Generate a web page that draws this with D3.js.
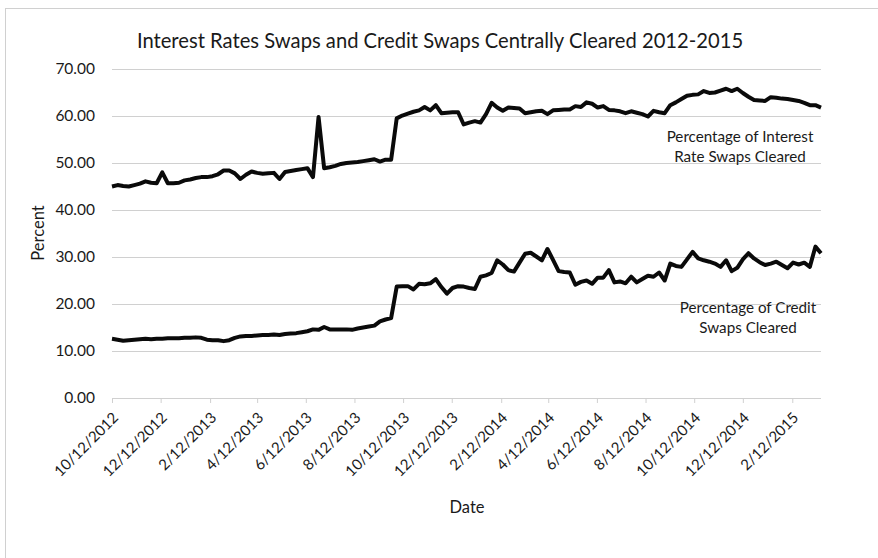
<!DOCTYPE html>
<html>
<head>
<meta charset="utf-8">
<script src="https://cdn.jsdelivr.net/npm/d3@7"></script>
<style>
  body { margin: 0; background: #fff; }
  text { font-family: Lato, "Noto Sans", sans-serif; fill: #1a1a1a; }
</style>
</head>
<body>
<div id="chart"></div>
<script>
// weekly observations, first week 10/12/2012
const startDate = "10/12/2012"

// % of interest rate swaps cleared
const irsCleared = [
  45.0, 45.3, 45.1, 45.0, 45.3, 45.6, 46.1, 45.8, 45.7, 48.0,
  45.7, 45.7, 45.8, 46.3, 46.5, 46.8, 47.0, 47.0, 47.2, 47.6,
  48.4, 48.4, 47.8, 46.6, 47.5, 48.2, 47.9, 47.7, 47.8, 47.9,
  46.6, 48.1, 48.3, 48.5, 48.7, 48.9, 47.0, 59.8, 48.9, 49.1,
  49.4, 49.8, 50.0, 50.1, 50.2, 50.4, 50.6, 50.8, 50.3, 50.7,
  50.7, 59.5, 60.1, 60.5, 60.9, 61.2, 61.9, 61.2, 62.3, 60.6,
  60.7, 60.8, 60.8, 58.2, 58.6, 58.9, 58.6, 60.4, 62.8, 61.8,
  61.1, 61.8, 61.7, 61.6, 60.6, 60.8, 61.0, 61.1, 60.4, 61.2,
  61.3, 61.4, 61.4, 62.1, 61.9, 62.9, 62.6, 61.8, 62.1, 61.3,
  61.2, 61.0, 60.6, 61.0, 60.7, 60.4, 59.9, 61.1, 60.8, 60.6,
  62.3, 62.9, 63.6, 64.3, 64.5, 64.6, 65.3, 64.9, 65.0, 65.4,
  65.8, 65.3, 65.8, 64.9, 64.1, 63.4, 63.3, 63.2, 64.0, 63.9,
  63.7, 63.6, 63.4, 63.2, 62.8, 62.3, 62.3, 61.8
]

// % of credit swaps cleared
const cdsCleared = [
  12.6, 12.4, 12.2, 12.3, 12.4, 12.5, 12.6, 12.5, 12.6, 12.6,
  12.7, 12.7, 12.7, 12.8, 12.8, 12.9, 12.8, 12.4, 12.3, 12.3,
  12.1, 12.3, 12.8, 13.1, 13.2, 13.2, 13.3, 13.4, 13.4, 13.5,
  13.4, 13.6, 13.7, 13.8, 14.0, 14.2, 14.6, 14.5, 15.1, 14.6,
  14.6, 14.6, 14.6, 14.5, 14.8, 15.0, 15.2, 15.4, 16.3, 16.7,
  17.0, 23.7, 23.8, 23.8, 23.1, 24.3, 24.2, 24.4, 25.3, 23.6,
  22.2, 23.4, 23.8, 23.7, 23.4, 23.2, 25.8, 26.1, 26.6, 29.3,
  28.4, 27.2, 26.9, 28.8, 30.7, 30.9, 30.1, 29.3, 31.7, 29.4,
  27.0, 26.8, 26.7, 24.1, 24.7, 25.0, 24.3, 25.6, 25.6, 27.2,
  24.6, 24.8, 24.4, 25.8, 24.6, 25.3, 26.0, 25.8, 26.7, 25.0,
  28.6, 28.1, 27.9, 29.5, 31.1, 29.7, 29.3, 29.0, 28.6, 27.9,
  29.3, 27.0, 27.7, 29.5, 30.8, 29.7, 28.9, 28.3, 28.6, 29.0,
  28.3, 27.6, 28.8, 28.4, 28.8, 27.9, 32.2, 30.8
]

const xTickLabels = [
  "10/12/2012", "12/12/2012", "2/12/2013", "4/12/2013", "6/12/2013",
  "8/12/2013", "10/12/2013", "12/12/2013", "2/12/2014", "4/12/2014",
  "6/12/2014", "8/12/2014", "10/12/2014", "12/12/2014", "2/12/2015"
]
const yTicks = [0, 10, 20, 30, 40, 50, 60, 70]

const chartTitle = "Interest Rates Swaps and Credit Swaps Centrally Cleared 2012-2015"
const irsNote = ["Percentage of Interest", "Rate Swaps Cleared"]
const cdsNote = ["Percentage of Credit", "Swaps Cleared"]

const W = 878, H = 558
const plot = { left: 112, right: 821, top: 69, bottom: 398 }

const parse = d3.timeParse("%m/%d/%Y")
const fmt = d3.timeFormat("%-m/%-d/%Y")
const t0 = parse(startDate)
const dates = irsCleared.map((v, i) => d3.timeDay.offset(t0, 7 * i))

const svg = d3.select("#chart")
    .append("svg")
    .attr("width", W)
    .attr("height", H)

// cadre du graphique
svg.append("rect")
    .attr("x", 5.5)
    .attr("y", 8.5)
    .attr("width", W + 20)
    .attr("height", H + 20)
    .attr("fill", "none")
    .attr("stroke", "#d0d0d0")

const x = d3.scaleTime()
    .domain([dates[0], dates[dates.length - 1]])
    .range([plot.left, plot.right])

const y = d3.scaleLinear()
    .domain([0, 70])
    .range([plot.bottom, plot.top])

// grille horizontale + labels y
const yAxis = svg.append("g")
    .attr("transform", "translate(" + plot.left + ",0)")
    .call(d3.axisLeft(y).tickValues(yTicks).tickSize(-(plot.right - plot.left)).tickPadding(17).tickFormat(d3.format(".2f")))
yAxis.select(".domain").remove()
yAxis.selectAll(".tick line").attr("stroke", "#d0d0d0")
yAxis.selectAll(".tick text").style("font-size", "15.5px").attr("fill", "#1a1a1a")

// axe x
const xAxis = svg.append("g")
    .attr("transform", "translate(0," + plot.bottom + ")")
    .call(d3.axisBottom(x).tickValues(xTickLabels.map(parse)).tickSize(5).tickFormat(fmt))
xAxis.select(".domain").attr("stroke", "#d0d0d0").attr("d", "M" + plot.left + ",0.5H" + plot.right)
xAxis.selectAll(".tick line").attr("stroke", "#d0d0d0")
xAxis.selectAll(".tick text")
    .style("font-size", "15px")
    .attr("fill", "#1a1a1a")
    .attr("text-anchor", "end")
    .attr("transform", "translate(3,17) rotate(-45)")
    .attr("dy", "0.35em")
    .attr("y", 0)

// titres
svg.append("text")
    .attr("x", 440)
    .attr("y", 48)
    .attr("text-anchor", "middle")
    .style("font-size", "20.2px")
    .text(chartTitle)

svg.append("text")
    .attr("x", 467)
    .attr("y", 513)
    .attr("text-anchor", "middle")
    .style("font-size", "16.5px")
    .text("Date")

svg.append("text")
    .attr("transform", "translate(44,233) rotate(-90)")
    .attr("text-anchor", "middle")
    .style("font-size", "16.5px")
    .text("Percent")

// lignes
const line = d3.line()
    .x((d, i) => x(dates[i]))
    .y(d => y(d))

;[irsCleared, cdsCleared].forEach(serie => {
    svg.append("path")
        .datum(serie)
        .attr("d", line)
        .attr("fill", "none")
        .attr("stroke", "#0a0a0a")
        .attr("stroke-width", 4)
        .attr("stroke-linejoin", "round")
})

// annotations
function note(lines, cx, y0) {
    svg.append("text")
        .attr("text-anchor", "middle")
        .style("font-size", "15.2px")
        .selectAll("tspan")
        .data(lines)
        .join("tspan")
        .attr("x", cx)
        .attr("y", (d, i) => y0 + i * 19.5)
        .text(d => d)
}
note(irsNote, 740, 142)
note(cdsNote, 748, 313)
</script>
</body>
</html>
